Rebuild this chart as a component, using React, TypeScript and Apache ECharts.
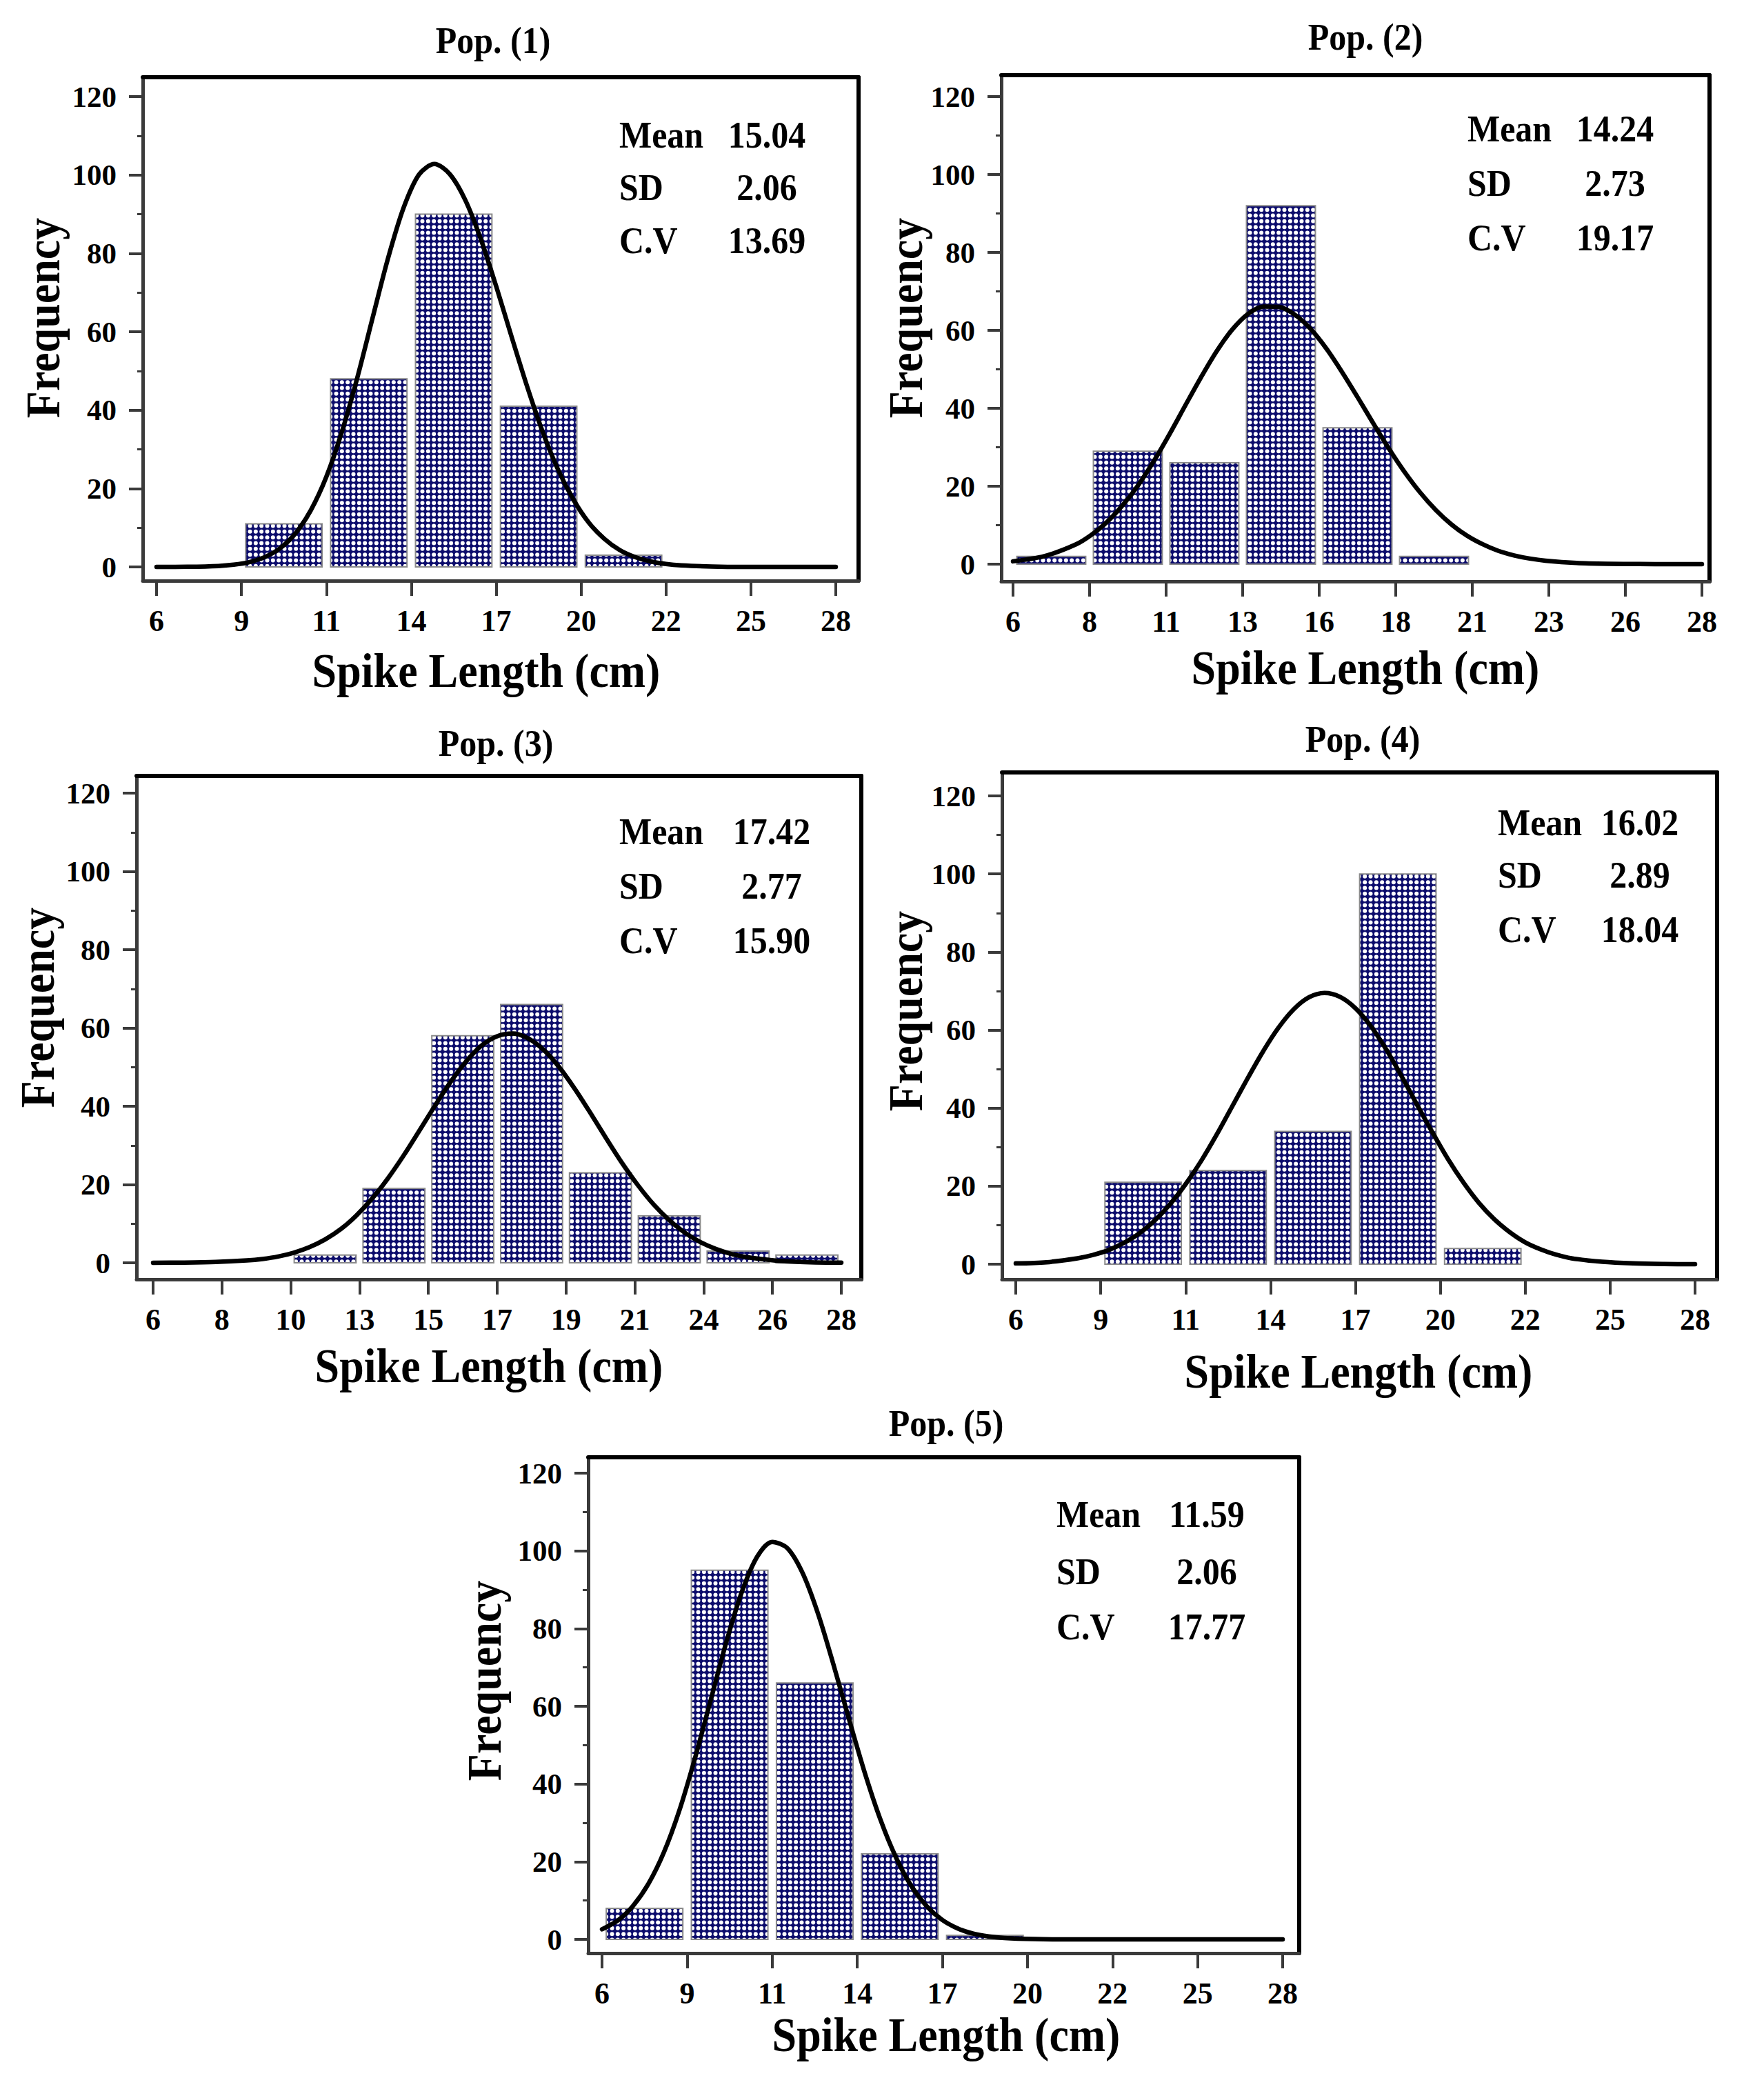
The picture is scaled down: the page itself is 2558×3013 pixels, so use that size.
import React, { useEffect, useRef } from 'react';
import * as echarts from 'echarts';

const FONT = "'Liberation Serif', 'Times New Roman', serif";
const AXIS_GRAY = '#3a3a3a';
const NAVY = '#0c0c6c';

// Histogram bin edges (cm); the same values carry the x-axis ticks
const edges28 = [6, 8.75, 11.5, 14.25, 17, 19.75, 22.5, 25.25, 28];
const edges28Labels = ['6', '9', '11', '14', '17', '20', '22', '25', '28'];
const pop2Edges = [6, 8.444, 10.889, 13.333, 15.778, 18.222, 20.667, 23.111, 25.556, 28];
const pop2Labels = ['6', '8', '11', '13', '16', '18', '21', '23', '26', '28'];
const pop3Edges = [6, 8.2, 10.4, 12.6, 14.8, 17, 19.2, 21.4, 23.6, 25.8, 28];
const pop3Labels = ['6', '8', '10', '13', '15', '17', '19', '21', '24', '26', '28'];

// Frequencies per bin
const pop1Counts = [0, 11, 48, 90, 41, 3, 0, 0];
const pop2Counts = [2, 29, 26, 92, 35, 2, 0, 0, 0];
const pop3Counts = [0, 0, 2, 19, 58, 66, 23, 12, 3, 2];
const pop4Counts = [0, 21, 24, 34, 100, 4, 0, 0];
const pop5Counts = [8, 95, 66, 22, 1, 0, 0, 0];

// Fitted density curves, [spike length (cm), frequency]
const pop1Curve = [
  [6, 0], [7, 0.04], [8, 0.24], [8.5, 0.56], [9, 1.21], [9.5, 2.48], [10, 4.75], [10.5, 8.56],
  [11, 14.5], [11.5, 23.0], [12, 34.4], [12.5, 48.2], [13, 63.6], [13.5, 78.8], [14, 91.6], [14.5, 100.1],
  [15, 102.8], [15.5, 100.2], [16, 93.6], [16.5, 83.7], [17, 71.6], [17.5, 58.7], [18, 46.1], [18.5, 34.6],
  [19, 24.9], [19.5, 17.2], [20, 11.3], [20.5, 7.2], [21, 4.3], [21.5, 2.5], [22, 1.4], [22.5, 0.74],
  [23, 0.38], [24, 0.09], [25, 0], [26, 0], [27, 0], [28, 0],
];
const pop2Curve = [
  [6, 0.73], [7, 2.05], [8, 5.03], [8.5, 7.5], [9, 10.8], [9.5, 15.1], [10, 20.3], [10.5, 26.5],
  [11, 33.4], [11.5, 40.7], [12, 47.9], [12.5, 54.6], [13, 60.2], [13.5, 64.2], [14, 66.1], [14.5, 66.0],
  [15, 64.0], [15.5, 60.4], [16, 55.4], [16.5, 49.4], [17, 42.9], [17.5, 36.2], [18, 29.7], [18.5, 23.7],
  [19, 18.4], [19.5, 13.9], [20, 10.2], [20.5, 7.3], [21, 5.1], [21.5, 3.4], [22, 2.25], [22.5, 1.44],
  [23, 0.9], [24, 0.32], [25, 0.1], [26, 0.03], [27, 0], [28, 0],
];
const pop3Curve = [
  [6, 0.01], [7, 0.05], [8, 0.2], [9, 0.6], [9.5, 0.98], [10, 1.6], [10.5, 2.58], [11, 4.0],
  [11.5, 5.97], [12, 8.6], [12.5, 12.1], [13, 16.4], [13.5, 21.5], [14, 27.3], [14.5, 33.6], [15, 40.0],
  [15.5, 46.1], [16, 51.4], [16.5, 55.5], [17, 57.9], [17.5, 58.6], [18, 57.3], [18.5, 54.3], [19, 49.8],
  [19.5, 44.2], [20, 38.0], [20.5, 31.6], [21, 25.4], [21.5, 19.8], [22, 14.9], [22.5, 10.9], [23, 7.7],
  [23.5, 5.27], [24, 3.5], [24.5, 2.23], [25, 1.4], [26, 0.5], [27, 0.15], [28, 0.05],
];
const pop4Curve = [
  [6, 0.2], [7, 0.5], [8, 1.5], [8.5, 2.36], [9, 3.6], [9.5, 5.45], [10, 7.9], [10.5, 11.2],
  [11, 15.4], [11.5, 20.5], [12, 26.4], [12.5, 33.1], [13, 40.3], [13.5, 47.5], [14, 54.4], [14.5, 60.5],
  [15, 65.3], [15.5, 68.4], [16, 69.5], [16.5, 68.5], [17, 65.6], [17.5, 61.0], [18, 55.0], [18.5, 48.1],
  [19, 40.8], [19.5, 33.7], [20, 26.9], [20.5, 20.9], [21, 15.7], [21.5, 11.5], [22, 8.2], [22.5, 5.6],
  [23, 3.8], [23.5, 2.44], [24, 1.5], [25, 0.6], [26, 0.2], [27, 0.05], [28, 0],
];
const pop5Curve = [
  [6, 2.6], [6.5, 4.8], [7, 8.6], [7.5, 14.3], [8, 22.4], [8.5, 33.2], [9, 46.5], [9.5, 61.2],
  [10, 76.0], [10.5, 89.0], [11, 98.3], [11.5, 102.3], [12, 100.6], [12.5, 94.0], [13, 83.4], [13.5, 70.2],
  [14, 56.2], [14.5, 42.7], [15, 30.8], [15.5, 21.1], [16, 13.7], [16.5, 8.5], [17, 5.0], [17.5, 2.8],
  [18, 1.47], [18.5, 0.74], [19, 0.35], [20, 0.07], [21, 0], [22, 0], [24, 0], [26, 0], [28, 0],
];

// Summary statistics
const statNames = ['Mean', 'SD', 'C.V'];
const pop1Stats = ['15.04', '2.06', '13.69'];
const pop2Stats = ['14.24', '2.73', '19.17'];
const pop3Stats = ['17.42', '2.77', '15.90'];
const pop4Stats = ['16.02', '2.89', '18.04'];
const pop5Stats = ['11.59', '2.06', '17.77'];

const yMajorTicks = [0, 20, 40, 60, 80, 100, 120];
const yMinorTicks = [10, 30, 50, 70, 90, 110];
const yTickLabels = ['0', '20', '40', '60', '80', '100', '120'];

const titles = ['Pop. (1)', 'Pop. (2)', 'Pop. (3)', 'Pop. (4)', 'Pop. (5)'];
const xName = 'Spike Length (cm)';
const yName = 'Frequency';

// Page layout of each panel (pixels)
const layouts = [
  { frame: [207, 112, 1245, 842], xFirstPx: 227, xLastPx: 1212, y0Px: 822, y120Px: 140,
    title: [715, 58], statsX: 898, statsNumX: 1112, statsY: [195, 271, 348], xName: [705, 972], yName: [62, 461] },
  { frame: [1452, 109, 2479, 843], xFirstPx: 1469, xLastPx: 2468, y0Px: 818, y120Px: 140,
    title: [1980, 53], statsX: 2128, statsNumX: 2342, statsY: [186, 265, 344], xName: [1980, 968], yName: [1313, 461] },
  { frame: [198, 1125, 1249, 1855], xFirstPx: 222, xLastPx: 1220, y0Px: 1831, y120Px: 1150,
    title: [719, 1077], statsX: 898, statsNumX: 1119, statsY: [1205, 1284, 1363], xName: [709, 1980], yName: [54, 1461] },
  { frame: [1453, 1120, 2490, 1855], xFirstPx: 1473, xLastPx: 2458, y0Px: 1833, y120Px: 1154,
    title: [1976, 1071], statsX: 2172, statsNumX: 2378, statsY: [1192, 1268, 1347], xName: [1970, 1988], yName: [1313, 1466] },
  { frame: [853, 2113, 1884, 2832], xFirstPx: 873, xLastPx: 1860, y0Px: 2812, y120Px: 2136,
    title: [1372, 2063], statsX: 1532, statsNumX: 1750, statsY: [2195, 2278, 2358], xName: [1372, 2950], yName: [702, 2437] },
];

const panels = [
  { edges: edges28, labels: edges28Labels, counts: pop1Counts, curve: pop1Curve, stats: pop1Stats },
  { edges: pop2Edges, labels: pop2Labels, counts: pop2Counts, curve: pop2Curve, stats: pop2Stats },
  { edges: pop3Edges, labels: pop3Labels, counts: pop3Counts, curve: pop3Curve, stats: pop3Stats },
  { edges: edges28, labels: edges28Labels, counts: pop4Counts, curve: pop4Curve, stats: pop4Stats },
  { edges: edges28, labels: edges28Labels, counts: pop5Counts, curve: pop5Curve, stats: pop5Stats },
];

// Navy tile with white dots, used as the bar fill
function makeDotTile(): HTMLCanvasElement {
  const c = document.createElement('canvas');
  c.width = 25;
  c.height = 25;
  const ctx = c.getContext('2d') as CanvasRenderingContext2D;
  ctx.fillStyle = NAVY;
  ctx.fillRect(0, 0, 25, 25);
  ctx.fillStyle = '#ffffff';
  const step = 25 / 3;
  for (let i = 0; i < 3; i++) {
    for (let j = 0; j < 3; j++) {
      ctx.beginPath();
      ctx.arc(step / 2 + i * step, step / 2 + j * step, 3.0, 0, Math.PI * 2);
      ctx.fill();
    }
  }
  return c;
}

function nearestLabel(v: number, values: number[], labels: string[]): string {
  let best = 0;
  for (let k = 1; k < values.length; k++) {
    if (Math.abs(values[k] - v) < Math.abs(values[best] - v)) best = k;
  }
  return Math.abs(values[best] - v) < 1e-6 ? labels[best] : '';
}

function buildOption() {
  const tile = makeDotTile();
  const dotFill = { image: tile, repeat: 'repeat', imageWidth: 25, imageHeight: 25 };
  const grid: any[] = [];
  const xAxis: any[] = [];
  const yAxis: any[] = [];
  const series: any[] = [];
  const graphic: any[] = [];
  const labelFont = { fontFamily: FONT, fontWeight: 'bold', color: '#000' };

  panels.forEach((p, i) => {
    const L = layouts[i];
    const [fl, ft, fr, fb] = L.frame;
    const e0 = p.edges[0];
    const e1 = p.edges[p.edges.length - 1];
    const pxPerX = (L.xLastPx - L.xFirstPx) / (e1 - e0);
    const xmin = e0 - (L.xFirstPx - fl) / pxPerX;
    const xmax = e1 + (fr - L.xLastPx) / pxPerX;
    const pxPerY = (L.y0Px - L.y120Px) / 120;
    const ymin = -(fb - L.y0Px) / pxPerY;
    const ymax = 120 + (L.y120Px - ft) / pxPerY;

    grid.push({ left: fl, top: ft, width: fr - fl, height: fb - ft, containLabel: false, outerBoundsMode: 'none' });

    xAxis.push({
      type: 'value', gridIndex: i, position: 'bottom', min: xmin, max: xmax,
      splitLine: { show: false },
      axisLine: { show: true, onZero: false, lineStyle: { color: AXIS_GRAY, width: 5 } },
      axisTick: { show: true, customValues: p.edges, length: 22, lineStyle: { color: AXIS_GRAY, width: 4 } },
      axisLabel: {
        show: true, customValues: p.edges, margin: 36, fontSize: 44, ...labelFont,
        formatter: (v: number) => nearestLabel(v, p.edges, p.labels),
      },
    });
    xAxis.push({
      type: 'value', gridIndex: i, position: 'top', min: xmin, max: xmax,
      splitLine: { show: false },
      axisLine: { show: true, onZero: false, lineStyle: { color: '#000', width: 6 } },
      axisTick: { show: false }, axisLabel: { show: false },
    });

    yAxis.push({
      type: 'value', gridIndex: i, position: 'left', min: ymin, max: ymax,
      splitLine: { show: false },
      axisLine: { show: true, onZero: false, lineStyle: { color: AXIS_GRAY, width: 5 } },
      axisTick: { show: true, customValues: yMajorTicks, length: 20, lineStyle: { color: AXIS_GRAY, width: 4 } },
      axisLabel: {
        show: true, customValues: yMajorTicks, margin: 38, fontSize: 43, ...labelFont,
        formatter: (v: number) => nearestLabel(v, yMajorTicks, yTickLabels),
      },
    });
    yAxis.push({
      type: 'value', gridIndex: i, position: 'left', min: ymin, max: ymax,
      splitLine: { show: false },
      axisLine: { show: false },
      axisTick: { show: true, customValues: yMinorTicks, length: 8, lineStyle: { color: AXIS_GRAY, width: 3 } },
      axisLabel: { show: false },
    });
    yAxis.push({
      type: 'value', gridIndex: i, position: 'right', min: ymin, max: ymax,
      splitLine: { show: false },
      axisLine: { show: true, onZero: false, lineStyle: { color: '#000', width: 6 } },
      axisTick: { show: false }, axisLabel: { show: false },
    });

    const barData = p.counts.map((c, k) => [p.edges[k], p.edges[k + 1], c]);
    series.push({
      type: 'custom', xAxisIndex: 2 * i, yAxisIndex: 3 * i, silent: true, z: 2,
      encode: { x: [0, 1], y: 2 },
      data: barData,
      renderItem: (params: any, api: any) => {
        const x0 = api.value(0);
        const x1 = api.value(1);
        const c = api.value(2);
        if (!c) return null;
        const inset = (x1 - x0) * 0.05;
        const pTop = api.coord([x0 + inset, c]);
        const pBot = api.coord([x1 - inset, 0]);
        return {
          type: 'rect',
          shape: { x: pTop[0], y: pTop[1], width: pBot[0] - pTop[0], height: pBot[1] - pTop[1] },
          style: { fill: dotFill, stroke: '#8a8a8a', lineWidth: 2 },
        };
      },
    });

    series.push({
      type: 'line', xAxisIndex: 2 * i, yAxisIndex: 3 * i, silent: true, z: 5,
      data: p.curve,
      smooth: 0.3, showSymbol: false, symbol: 'none',
      lineStyle: { color: '#000', width: 6.5, cap: 'round', join: 'round' },
    });

    const txt = (x: number, y: number, text: string, size: number, align: string, rotation = 0) => ({
      type: 'text', x, y, rotation, scaleY: 1.1, silent: true, z: 10,
      style: { text, fill: '#000', fontSize: size, fontWeight: 'bold', fontFamily: FONT, align, verticalAlign: 'middle' },
    });

    graphic.push(txt(L.title[0], L.title[1], titles[i], 50, 'center'));
    graphic.push(txt(L.xName[0], L.xName[1], xName, 64, 'center'));
    graphic.push(txt(L.yName[0], L.yName[1], yName, 64, 'center', Math.PI / 2));
    statNames.forEach((name, k) => {
      graphic.push(txt(L.statsX, L.statsY[k], name, 50, 'left'));
      graphic.push(txt(L.statsNumX, L.statsY[k], p.stats[k], 50, 'center'));
    });
  });

  return {
    animation: false,
    backgroundColor: '#ffffff',
    grid, xAxis, yAxis, series, graphic,
  };
}

export default function App() {
  const ref = useRef<HTMLDivElement>(null);
  useEffect(() => {
    document.body.style.margin = '0';
    if (!ref.current) return;
    const chart = echarts.init(ref.current, null, { renderer: 'svg', width: 2558, height: 3013 });
    chart.setOption(buildOption() as any);
    return () => chart.dispose();
  }, []);
  return <div ref={ref} style={{ position: 'absolute', left: 0, top: 0, width: 2558, height: 3013, background: '#fff' }} />;
}
